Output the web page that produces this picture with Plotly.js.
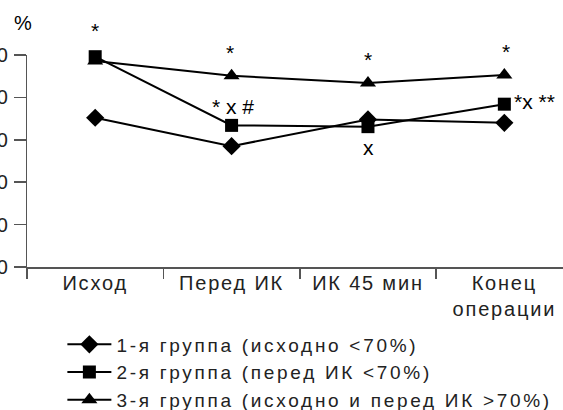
<!DOCTYPE html>
<html>
<head>
<meta charset="utf-8">
<script src="https://cdn.plot.ly/plotly-3.0.1.min.js"></script>
<style>
html, body { margin: 0; padding: 0; background: #fff; overflow: hidden; width: 563px; height: 410px; }
#chart { position: absolute; left: -60px; top: 0; width: 623px; height: 410px; }
.legendtext { letter-spacing: 2.7px; }
.xtick text { letter-spacing: 1.8px; }
.ytick text { letter-spacing: 1.5px; }
</style>
</head>
<body>
<div id="chart"></div>
<script>
// ---- data ----
const categories = ['Исход', 'Перед ИК', 'ИК 45 мин', 'Конец<br>операции'];
const seriesNames = ['1-я группа (исходно <70%)', '2-я группа (перед ИК <70%)', '3-я группа (исходно и перед ИК >70%)'];
const group1 = [65.2, 58.5, 64.8, 64.0];
const group2 = [79.6, 63.4, 63.1, 68.4];
const group3 = [78.6, 75.1, 73.4, 75.3];
const yTicks = [30, 40, 50, 60, 70, 80];
// significance marks: series index, point index, text
const notes = [
  { s: 1, i: 0, text: '*' },
  { s: 2, i: 1, text: '*' },
  { s: 1, i: 1, text: '* x #' },
  { s: 2, i: 2, text: '*' },
  { s: 1, i: 2, text: 'x' },
  { s: 2, i: 3, text: '*' },
  { s: 1, i: 3, text: '*x **' }
];

// ---- styling ----
const FONT = 'Liberation Sans, Arial, sans-serif';
const symbols = ['diamond', 'square', 'triangle-up'];
const sizes = [14, 13, 14];
const series = [group1, group2, group3];
const noteStyle = [
  { yshift: 26, xshift: 0 },
  { yshift: 23, xshift: -2 },
  { yshift: 19, xshift: 1 },
  { yshift: 23, xshift: 0 },
  { yshift: -21, xshift: 1 },
  { yshift: 23, xshift: 2 },
  { yshift: 3, xshift: 8, xanchor: 'left' }
];

const traces = series.map((vals, k) => ({
  type: 'scatter',
  mode: 'lines+markers',
  x: categories,
  y: vals,
  name: seriesNames[k],
  line: { color: '#000', width: 2 },
  marker: { symbol: symbols[k], size: sizes[k], color: '#000' },
  cliponaxis: false
}));

const annotations = notes.map((n, j) => ({
  x: categories[n.i],
  y: series[n.s][n.i],
  xref: 'x', yref: 'y',
  text: n.text,
  showarrow: false,
  font: { family: FONT, size: 21, color: '#000' },
  xanchor: noteStyle[j].xanchor || 'center',
  yanchor: 'middle',
  xshift: noteStyle[j].xshift,
  yshift: noteStyle[j].yshift
}));
annotations.push({
  xref: 'paper', yref: 'paper', x: -0.008, y: 1.15,
  text: '%', showarrow: false, xanchor: 'center', yanchor: 'middle',
  font: { family: FONT, size: 20, color: '#000' }
});

const layout = {
  width: 623, height: 410,
  margin: { l: 87, r: 0, t: 55, b: 143, pad: 0, autoexpand: false },
  paper_bgcolor: '#fff', plot_bgcolor: '#fff',
  font: { family: FONT, size: 20, color: '#222' },
  showlegend: true,
  legend: {
    x: 0.066, y: -0.276, xanchor: 'left', yanchor: 'top',
    font: { family: FONT, size: 19, color: '#222' },
    bgcolor: 'rgba(0,0,0,0)', itemwidth: 44, tracegroupgap: 0
  },
  xaxis: {
    type: 'category',
    categoryorder: 'array', categoryarray: categories,
    range: [-0.5, 3.43],
    tickson: 'boundaries',
    ticks: 'outside', ticklen: 10, tickwidth: 1.5, tickcolor: '#555',
    showline: true, linecolor: '#555', linewidth: 1.5,
    showgrid: false, zeroline: false,
    ticklabelstandoff: -3,
    tickfont: { family: FONT, size: 20, color: '#222' }
  },
  yaxis: {
    range: [30, 80],
    tickvals: yTicks,
    ticks: 'outside', ticklen: 12, tickwidth: 1.5, tickcolor: '#555',
    showline: true, linecolor: '#555', linewidth: 1.5,
    showgrid: false, zeroline: false,
    ticklabelstandoff: 0,
    tickfont: { family: FONT, size: 20, color: '#222' }
  },
  annotations: annotations
};

Plotly.newPlot('chart', traces, layout, { displayModeBar: false, staticPlot: true });
</script>
</body>
</html>
